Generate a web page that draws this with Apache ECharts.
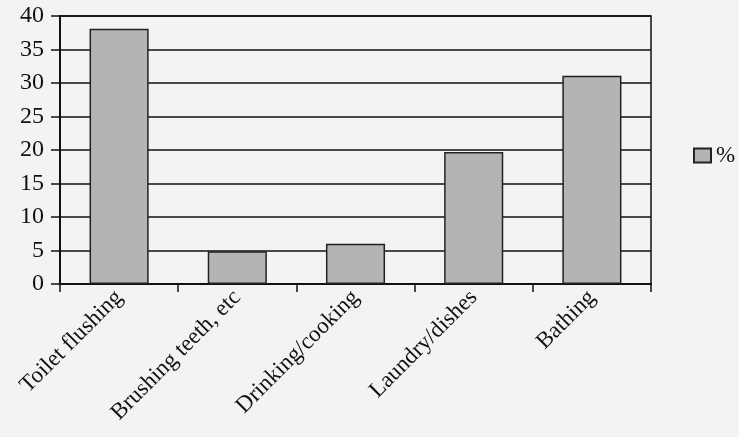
<!DOCTYPE html>
<html>
<head>
<meta charset="utf-8">
<script src="https://cdn.jsdelivr.net/npm/echarts@6/dist/echarts.min.js"></script>
<style>
  html, body { margin: 0; padding: 0; background: #f3f3f1; }
  #chart { width: 739px; height: 437px; }
</style>
</head>
<body>
<div id="chart"></div>
<script>
// water use by activity
const categories = ['Toilet flushing', 'Brushing teeth, etc', 'Drinking/cooking', 'Laundry/dishes', 'Bathing']
const percent = [38.1, 4.9, 6.0, 19.7, 31.1]
const seriesName = '%'

const serif = '"Liberation Serif", "DejaVu Serif", serif'

const chart = echarts.init(document.getElementById('chart'))
chart.setOption({
  backgroundColor: '#f3f3f1',
  animation: false,
  grid: {
    left: 60,
    right: 88,
    top: 16,
    bottom: 153,
    show: true,
    borderColor: '#111',
    borderWidth: 1.5,
    backgroundColor: 'transparent'
  },
  legend: {
    data: [seriesName],
    left: 688,
    top: 139,
    itemWidth: 17,
    itemHeight: 14,
    itemGap: 6,
    textStyle: { fontFamily: serif, fontSize: 23, color: '#111' },
    icon: 'rect'
  },
  xAxis: {
    type: 'category',
    data: categories,
    axisLine: { lineStyle: { color: '#111', width: 2 } },
    axisTick: { show: true, length: 8, lineStyle: { color: '#111', width: 1.5 } },
    axisLabel: {
      rotate: 45,
      margin: 10,
      interval: 0,
      fontFamily: serif,
      fontSize: 23,
      color: '#111'
    }
  },
  yAxis: {
    type: 'value',
    min: 0,
    max: 40,
    interval: 5,
    axisLine: { show: true, lineStyle: { color: '#111', width: 2 } },
    axisTick: { show: true, length: 9, lineStyle: { color: '#111', width: 1.5 } },
    axisLabel: { margin: 16, fontFamily: serif, fontSize: 24, color: '#111' },
    splitLine: { lineStyle: { color: '#111', width: 1.5 } }
  },
  series: [{
    name: seriesName,
    type: 'bar',
    data: percent,
    barWidth: '50%',
    itemStyle: {
      color: '#b4b4b2',
      borderColor: '#222',
      borderWidth: 1.5
    }
  }]
})
</script>
</body>
</html>
